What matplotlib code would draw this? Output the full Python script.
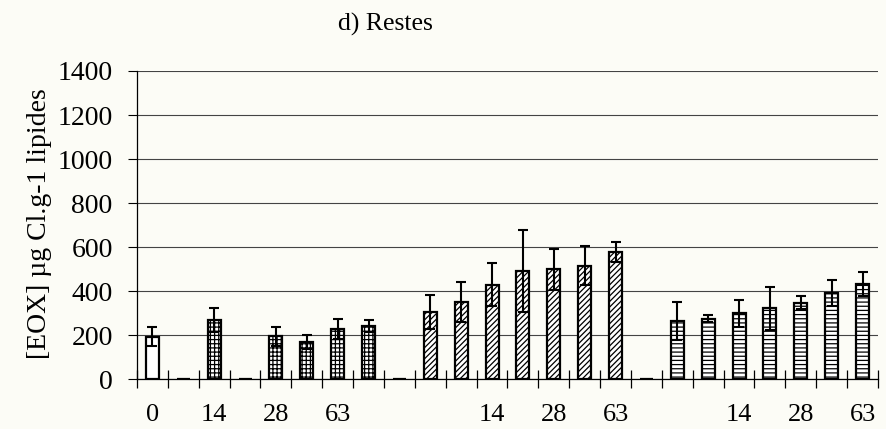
import numpy as np
import matplotlib
matplotlib.use("Agg")
import matplotlib.pyplot as plt

# values, one per category slot
labels = ["0", "", "14", "", "28", "", "63", "", "",
          "", "", "14", "", "28", "", "63", "",
          "", "", "14", "", "28", "", "63"]
values = [194, 0, 268, 0, 195, 169, 228, 243, 0,
          305, 350, 429, 492, 500, 516, 577, 0,
          264, 276, 299, 322, 348, 392, 432]
errors = [42, 0, 55, 0, 44, 33, 47, 26, 0,
          77, 90, 98, 186, 93, 88, 46, 0,
          87, 16, 60, 97, 29, 60, 55]
groups = [0, 1, 1, 1, 1, 1, 1, 1, 1,
          2, 2, 2, 2, 2, 2, 2, 2,
          3, 3, 3, 3, 3, 3, 3]

hatches = {0: "", 1: "++++", 2: "//////", 3: "----"}

plt.rcParams["font.family"] = ["Liberation Serif", "DejaVu Serif"]
plt.rcParams["hatch.linewidth"] = 0.9

bg = "#fcfcf6"
fig = plt.figure(figsize=(8.87, 4.29), dpi=100, facecolor=bg)
ax = fig.add_axes([137 / 887, 1 - 379.3 / 429, 741 / 887, (379.3 - 71) / 429])
ax.set_facecolor(bg)

x = np.arange(len(values))
for i in x:
    ax.bar(i, values[i], width=0.42, color="white", edgecolor="black",
           linewidth=1.6, hatch=hatches[groups[i]], zorder=3)
    if errors[i] > 0:
        ax.errorbar(i, values[i], yerr=errors[i], fmt="none", ecolor="black",
                    elinewidth=1.5, capsize=3.8, capthick=1.5, zorder=4)

ax.set_xlim(-0.5, len(values) - 0.5)
ax.set_ylim(0, 1400)
ax.set_yticks(np.arange(0, 1401, 200))
ax.yaxis.grid(True, color="#444444", linewidth=0.8)
ax.set_axisbelow(True)

ax.set_xticks(x)
ax.set_xticklabels(labels)
ax.set_xticks(np.arange(-0.5, len(values)), minor=True)
ax.tick_params(axis="x", which="major", length=0, pad=18, labelsize=19)
ax.tick_params(axis="x", which="minor", direction="inout", length=13, width=0.9)
ax.tick_params(axis="y", length=6.5, width=0.8, pad=11, labelsize=20)

for s in ["top", "right"]:
    ax.spines[s].set_visible(False)
ax.spines["left"].set_linewidth(0.9)
ax.spines["bottom"].set_linewidth(0.9)

fig.text(385 / 887, 1 - 24 / 429, "d) Restes", ha="center", va="center", fontsize=18.5)
fig.text(40 / 887, 1 - 224 / 429, "[EOX] µg Cl.g-1 lipides", ha="center", va="center",
         rotation=90, fontsize=20)

fig.savefig("out.png", dpi=100, facecolor=bg)
